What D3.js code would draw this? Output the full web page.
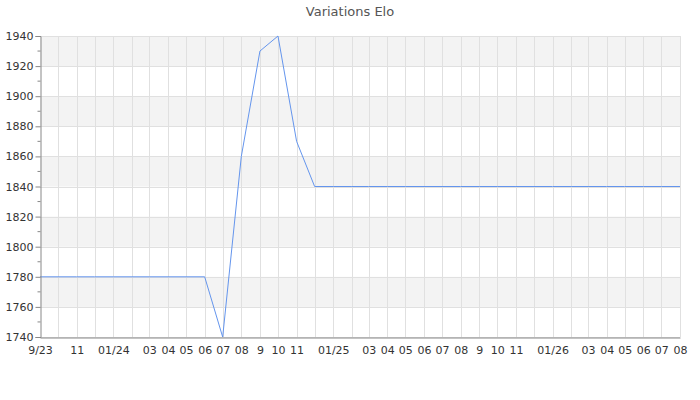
<!DOCTYPE html>
<html><head><meta charset="utf-8">
<script src="https://cdn.jsdelivr.net/npm/d3@7"></script>
<style>body{margin:0;background:#fff}svg{display:block;font-family:"DejaVu Sans",sans-serif}</style>
</head><body><svg id="c" width="700" height="400"></svg>
<script>
const months = ["2023-09","2023-10","2023-11","2023-12","2024-01","2024-02","2024-03","2024-04","2024-05","2024-06","2024-07","2024-08","2024-09","2024-10","2024-11","2024-12","2025-01","2025-02","2025-03","2025-04","2025-05","2025-06","2025-07","2025-08","2025-09","2025-10","2025-11","2025-12","2026-01","2026-02","2026-03","2026-04","2026-05","2026-06","2026-07","2026-08"];
const elo = [1780,1780,1780,1780,1780,1780,1780,1780,1780,1780,1740,1860,1930,1940,1870,1840,1840,1840,1840,1840,1840,1840,1840,1840,1840,1840,1840,1840,1840,1840,1840,1840,1840,1840,1840,1840];
const xTickLabels = ["9/23","","11","","01/24","","03","04","05","06","07","08","9","10","11","","01/25","","03","04","05","06","07","08","9","10","11","","01/26","","03","04","05","06","07","08"];
const yTicks = [1740,1760,1780,1800,1820,1840,1860,1880,1900,1920,1940];
const yMinor = [1750,1770,1790,1810,1830,1850,1870,1890,1910,1930];
const title = "Variations Elo";

const svg = d3.select("#c");
const L=40,R=680,T=36,B=337;
const parse = d3.timeParse("%Y-%m");
const dates = months.map(parse);
const x = d3.scaleTime().domain([dates[0], dates[dates.length-1]]).range([L,R]);
const y = d3.scaleLinear().domain([1740,1940]).range([B,T]);

// bands
const bands = d3.range(0, yTicks.length-1).filter(i => i%2===1);
svg.append("g").selectAll("rect").data(bands).join("rect")
  .attr("x",L).attr("width",R-L)
  .attr("y",i=>y(yTicks[i+1])).attr("height",i=>y(yTicks[i])-y(yTicks[i+1]))
  .attr("fill","#f3f3f3");

// grid
const g = svg.append("g").attr("stroke","#e0e0e0").attr("stroke-width",1);
g.selectAll(".h").data(yTicks).join("line")
  .attr("x1",L).attr("x2",R).attr("y1",d=>Math.round(y(d))+0.5).attr("y2",d=>Math.round(y(d))+0.5);
g.selectAll(".v").data(dates.slice(1)).join("line")
  .attr("y1",T).attr("y2",B).attr("x1",d=>Math.round(x(d))+0.5).attr("x2",d=>Math.round(x(d))+0.5);

// line
svg.append("path").datum(dates.map((d,i)=>[d,elo[i]]))
  .attr("fill","none").attr("stroke","#6495ED").attr("stroke-width",1)
  .attr("d", d3.line().x(d=>x(d[0])).y(d=>y(d[1])));

// y axis
const yAxis = svg.append("g").attr("transform",`translate(${L+0.5},0)`)
  .call(d3.axisLeft(y).tickValues(yTicks).tickSize(5).tickPadding(2).tickFormat(d3.format("d")));
yAxis.select(".domain").attr("stroke","#888");
yAxis.selectAll(".tick line").attr("stroke","#888");
yAxis.selectAll(".tick text").attr("fill","#333").attr("font-size","11px").attr("font-family","DejaVu Sans");
yAxis.append("g").selectAll("line").data(yMinor).join("line")
  .attr("x1",-3).attr("x2",0).attr("y1",d=>y(d)).attr("y2",d=>y(d)).attr("stroke","#888");

// x axis
const xAxis = svg.append("g").attr("transform",`translate(0,${B+0.5})`)
  .call(d3.axisBottom(x).tickValues(dates).tickSize(0).tickPadding(9)
    .tickFormat((d,i)=>xTickLabels[i]));
xAxis.select(".domain").attr("stroke","#888");
xAxis.selectAll(".tick text").attr("fill","#333").attr("font-size","11px").attr("font-family","DejaVu Sans");

svg.append("text").attr("x",350).attr("y",16).attr("text-anchor","middle")
  .attr("font-size","13px").attr("fill","#555").text(title);
</script></body></html>
